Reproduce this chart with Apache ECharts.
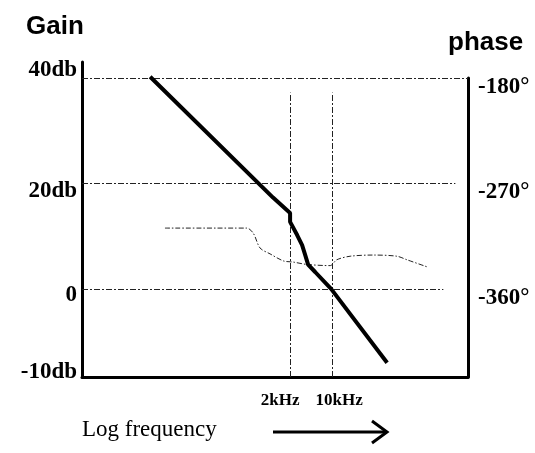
<!DOCTYPE html>
<html>
<head>
<meta charset="utf-8">
<script src="https://cdn.jsdelivr.net/npm/echarts@6/dist/echarts.min.js"></script>
<style>
html, body { margin: 0; padding: 0; background: #fff; }
#bode { width: 535px; height: 453px; }
</style>
</head>
<body>
<div id="bode"></div>
<script>
// gain curve: frequency (Hz) and gain (dB)
var gainFreq = [9.4, 1040, 2000, 2000, 2620, 3170, 3550, 3990, 5220, 9620, 82200];
var gainDb = [40.2, 17.3, 14.4, 12.7, 10.2, 8.3, 6.5, 4.6, 3.2, 0, -14.0];

// phase curve: frequency (Hz) and phase (degrees)
var phaseFreq = [16.6, 381, 490, 634, 929, 1549, 2270, 3790, 9270, 11970, 19950, 48600, 119400, 175000, 376700];
var phaseDeg = [-308, -308, -312.5, -325, -330, -336, -337, -339, -340, -335, -332, -331, -332, -335, -341];

// tick labels
var gainTicks = [-16.7, 0, 20, 40];
var gainLabels = ['-10db', '0', '20db', '40db'];
var phaseTicks = [-180, -270, -360];
var phaseLabels = ['-180°', '-270°', '-360°'];
var markFreq = [2000, 10000];
var markLabels = ['2kHz', '10kHz'];
var gridDb = [40, 20, 0];

// axis ranges (x in decades of Hz)
var xMin = -0.16, xMax = 6.26;
var gainMin = -16.7, gainMax = 43;
var gridEnd = [6.26, 6.05, 5.85];
var markTop = 37.2;

var serif = '"Liberation Serif", "Times New Roman", serif';
var sans = '"Liberation Sans", Arial, sans-serif';
var dashDot = [6, 2, 2, 2];

function xy(fs, vs) {
    return fs.map(function (f, i) { return [Math.log10(f), vs[i]]; });
}

// label text style shifted by padding
function tag(pad, size) {
    return { padding: pad, color: '#000', fontFamily: serif, fontWeight: 'bold', fontSize: size };
}

var bode = echarts.init(document.getElementById('bode'));

var option = {
    animation: false,
    backgroundColor: '#fff',
    grid: [
        { left: 82, right: 67, top: 62, bottom: 76 },
        { left: 82, right: 67, top: 78, bottom: 76 }
    ],
    xAxis: [
        {
            gridIndex: 0, type: 'value', min: xMin, max: xMax,
            axisLine: { show: true, onZero: false, lineStyle: { color: '#000', width: 3 } },
            axisTick: { show: false },
            splitLine: { show: false },
            axisLabel: {
                customValues: markFreq.map(Math.log10),
                formatter: function (v) {
                    for (var i = 0; i < markFreq.length; i++) {
                        if (Math.abs(Math.log10(markFreq[i]) - v) < 1e-6) {
                            return '{' + (i === 0 ? 'l' : 'r') + '|' + markLabels[i] + '}';
                        }
                    }
                    return '';
                },
                hideOverlap: false,
                margin: 15,
                color: '#000',
                fontFamily: serif,
                fontWeight: 'bold',
                fontSize: 17,
                rich: {
                    l: tag([0, 20, 0, 0], 17),
                    r: tag([0, 0, 0, 14], 17)
                }
            }
        },
        {
            gridIndex: 1, type: 'value', min: xMin, max: xMax, show: false
        }
    ],
    yAxis: [
        {
            gridIndex: 0, type: 'value', min: gainMin, max: gainMax, position: 'left',
            axisLine: { show: true, onZero: false, lineStyle: { color: '#000', width: 3 } },
            axisTick: { show: false },
            splitLine: { show: false },
            axisLabel: {
                customValues: gainTicks,
                formatter: function (v) {
                    var i = gainTicks.indexOf(v);
                    var t = v > 30 ? 'u' : (v < -10 ? 'b' : (v > 10 ? 'd' : 'z'));
                    return '{' + t + '|' + gainLabels[i] + '}';
                },
                margin: 5,
                color: '#000',
                fontFamily: serif,
                fontWeight: 'bold',
                fontSize: 23,
                rich: {
                    u: tag([0, 0, 16, 0], 23),
                    d: tag([16, 0, 0, 0], 23),
                    z: tag([12, 0, 0, 0], 23),
                    b: tag([0, 0, 10, 0], 23)
                }
            }
        },
        {
            gridIndex: 1, type: 'value', min: -435, max: -180, position: 'right',
            axisLine: { show: true, onZero: false, lineStyle: { color: '#000', width: 3 } },
            axisTick: { show: false },
            splitLine: { show: false },
            axisLabel: {
                customValues: phaseTicks,
                formatter: function (v) {
                    return '{p|' + phaseLabels[phaseTicks.indexOf(v)] + '}';
                },
                margin: 10,
                color: '#000',
                fontFamily: serif,
                fontWeight: 'bold',
                fontSize: 23,
                rich: {
                    p: tag([18, 0, 0, 0], 23)
                }
            }
        }
    ],
    graphic: [
        {
            type: 'text', x: 26, y: 27,
            style: { text: 'Gain', fill: '#000', font: 'bold 26px ' + sans, verticalAlign: 'middle' }
        },
        {
            type: 'text', x: 448, y: 43,
            style: { text: 'phase', fill: '#000', font: 'bold 26px ' + sans, verticalAlign: 'middle' }
        },
        {
            type: 'text', x: 82, y: 430,
            style: { text: 'Log frequency', fill: '#000', font: '23px ' + serif, verticalAlign: 'middle' }
        },
        {
            type: 'line', shape: { x1: 273, y1: 432, x2: 386, y2: 432 },
            style: { stroke: '#000', lineWidth: 3 }
        },
        {
            type: 'polyline', shape: { points: [[372, 421], [387, 432], [372, 443]] },
            style: { stroke: '#000', lineWidth: 3, fill: null }
        }
    ],
    series: [
        {
            name: 'gain',
            type: 'line',
            xAxisIndex: 0,
            yAxisIndex: 0,
            data: xy(gainFreq, gainDb),
            showSymbol: false,
            lineStyle: { color: '#000', width: 4 },
            z: 5,
            markLine: {
                silent: true,
                symbol: ['none', 'none'],
                label: { show: false },
                lineStyle: { color: '#222', width: 1, type: dashDot },
                data: gridDb.map(function (db, i) {
                    return [{ coord: [xMin, db] }, { coord: [gridEnd[i], db] }];
                }).concat(markFreq.map(function (f) {
                    return [{ coord: [Math.log10(f), gainMin] }, { coord: [Math.log10(f), markTop] }];
                }))
            }
        },
        {
            name: 'phase',
            type: 'line',
            xAxisIndex: 1,
            yAxisIndex: 1,
            data: xy(phaseFreq, phaseDeg),
            showSymbol: false,
            smooth: 0.3,
            lineStyle: { color: '#222', width: 1, type: [5, 2, 1.5, 2] }
        }
    ]
};

bode.setOption(option);
</script>
</body>
</html>
